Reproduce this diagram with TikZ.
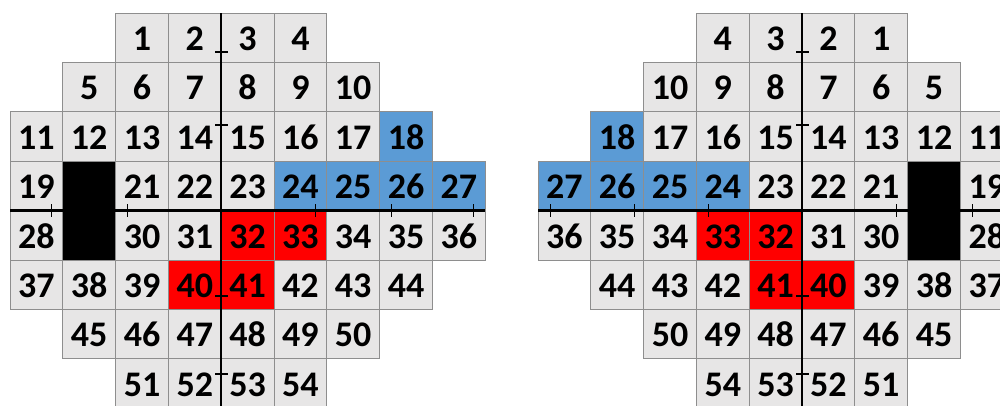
\documentclass[tikz,border=0pt]{standalone}
\usepackage{fontspec}
\setmainfont{Carlito}
\definecolor{cellgray}{HTML}{E7E6E6}
\definecolor{cellblue}{HTML}{5B9BD5}
\definecolor{cellred}{HTML}{FF0000}
\definecolor{gridline}{HTML}{8E8E8E}
\tikzset{
  cell/.style={draw=gridline, line width=1pt, fill=cellgray, minimum width=52.8pt,
    minimum height=49.4pt, inner sep=0pt, outer sep=0pt, anchor=north west,
    font=\fontsize{36}{36}\selectfont\bfseries, text height=25.5pt, text depth=0pt},
  f18/.style={fill=cellblue}, f24/.style={fill=cellblue}, f25/.style={fill=cellblue},
  f26/.style={fill=cellblue}, f27/.style={fill=cellblue},
  f32/.style={fill=cellred}, f33/.style={fill=cellred}, f40/.style={fill=cellred},
  f41/.style={fill=cellred},
  f20/.style={fill=black}, f29/.style={fill=black},
  axisline/.style={line width=2.3pt, black},
  tickline/.style={line width=1.4pt, black}
}
\begin{document}
\begin{tikzpicture}[x=1pt,y=-1pt]
\useasboundingbox (0,0) rectangle (1000,405);
\clip (0,0) rectangle (1000,405);
\fill[white] (0,0) rectangle (1000,405);
\foreach \r/\s/\a/\b in {0/2/1/4, 1/1/5/10, 2/0/11/18, 3/0/19/27, 4/0/28/36, 5/0/37/44, 6/1/45/50, 7/2/51/54} {
  \foreach \n in {\a,...,\b} {
    \pgfmathtruncatemacro\c{\s+\n-\a}
    \node[cell, f\n/.try] (L\n) at ({10+\c*52.8},{13+\r*49.4}) {\ifnum\n=20 \else\ifnum\n=29 \else\n\fi\fi};
    \node[cell, f\n/.try] (R\n) at ({538+(8-\c)*52.8},{13+\r*49.4}) {\ifnum\n=20 \else\ifnum\n=29 \else\n\fi\fi};
  }
}
% left axes
\coordinate (LvT) at (221.2,13);
\coordinate (LvB) at (221.2,410);
\coordinate (LhL) at (10,210.6);
\coordinate (LhR) at (485.2,210.6);
\draw[axisline] (LvT) -- (LvB);
\draw[axisline] (LhL) -- (LhR);
\foreach \x in {51.2,127.2,315.2,391.2,473.2}
  \draw[tickline] (\x,204) -- (\x,217);
\foreach \y in {52,125,296,374}
  \draw[tickline] (215,\y) -- (228,\y);
% right axes
\coordinate (RvT) at (802.2,13);
\coordinate (RvB) at (802.2,410);
\coordinate (RhL) at (538,210.6);
\coordinate (RhR) at (1014,210.6);
\draw[axisline] (RvT) -- (RvB);
\draw[axisline] (RhL) -- (RhR);
\foreach \x in {550.2,634.2,708.2,896.2,972.2}
  \draw[tickline] (\x,204) -- (\x,217);
\foreach \y in {52,125,296,374}
  \draw[tickline] (796,\y) -- (809,\y);
\end{tikzpicture}
\end{document}
